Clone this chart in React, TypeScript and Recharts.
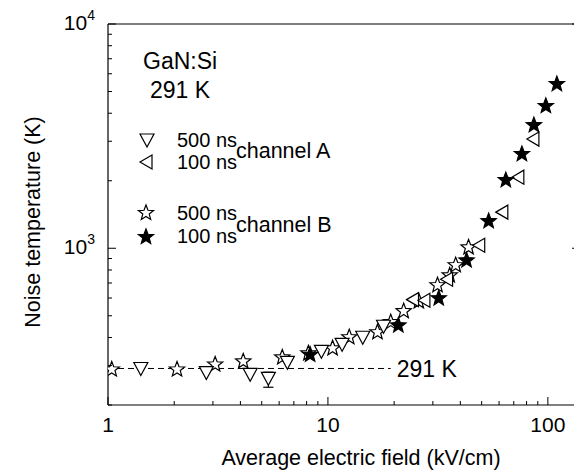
import React from 'react'
import {
	ScatterChart,
	Scatter,
	XAxis,
	YAxis,
	ReferenceLine,
	ReferenceDot,
} from 'recharts'

const FONT = '"Liberation Sans", Arial, Helvetica, sans-serif'

// channel A, 500 ns pulses (down triangles)
const a500Field = [1.41, 2.8, 4.43, 5.36, 6.54, 9.34, 11.6, 14.4, 17.9]
const a500Temp = [291, 279, 274, 263, 310, 347, 373, 401, 449]
// error bar on the 5.36 kV/cm point
const errField = 5.36
const errLow = 240
const errHigh = 280
const capFactor = 1.055

// channel A, 100 ns pulses (left triangles)
const a100Field = [24.5, 27.6, 35.0, 49.0, 62.4, 73.8, 86.4]
const a100Temp = [590, 586, 728, 1031, 1449, 2075, 3067]

// channel B, 500 ns pulses (open stars)
const b500Field = [1.04, 2.06, 3.07, 4.12, 6.2, 8.15, 10.5, 12.5, 16.8, 19.3, 22.1, 25.9, 31.5, 35.8, 38.1, 43.6]
const b500Temp = [288, 288, 303, 313, 326, 340, 358, 401, 422, 468, 524, 580, 684, 757, 840, 1009]

// channel B, 100 ns pulses (filled stars)
const b100Field = [8.3, 20.9, 31.9, 42.7, 53.8, 64.4, 76.2, 86.4, 97.9, 109.9]
const b100Temp = [335, 453, 598, 883, 1321, 2013, 2630, 3540, 4309, 5395]

const xTicks = [1, 2, 3, 4, 5, 6, 7, 8, 9, 10, 20, 30, 40, 50, 60, 70, 80, 90, 100]
const xMajor = [1, 10, 100]
const yTicks = [200, 300, 400, 500, 600, 700, 800, 900, 1000, 2000, 3000, 4000, 5000, 6000, 7000, 8000, 9000, 10000]
const yMajor = [1000, 10000]

const latticeTemp = 291
const dashFrom = 1
const dashTo = 19.3

const toPoints = (xs: number[], ys: number[]) => xs.map((x, i) => ({ x, y: ys[i] }))

const a500 = toPoints(a500Field, a500Temp)
const a100 = toPoints(a100Field, a100Temp)
const b500 = toPoints(b500Field, b500Temp)
const b100 = toPoints(b100Field, b100Temp)

function starPath(cx: number, cy: number, R = 8, r = 3.4) {
	let d = ''
	for (let i = 0; i < 10; i++) {
		const rad = i % 2 === 0 ? R : r
		const a = -Math.PI / 2 + (i * Math.PI) / 5
		d += (i === 0 ? 'M' : 'L') + (cx + rad * Math.cos(a)).toFixed(2) + ',' + (cy + rad * Math.sin(a)).toFixed(2)
	}
	return d + 'Z'
}

const DownTri = (p: any) => (
	<path d={`M${p.cx - 7},${p.cy - 6}L${p.cx + 7},${p.cy - 6}L${p.cx},${p.cy + 7}Z`} fill="white" stroke="black" strokeWidth={1.2} />
)
const LeftTri = (p: any) => (
	<path d={`M${p.cx - 7},${p.cy}L${p.cx + 5},${p.cy - 7}L${p.cx + 5},${p.cy + 7}Z`} fill="white" stroke="black" strokeWidth={1.2} />
)
const OpenStar = (p: any) => <path d={starPath(p.cx, p.cy)} fill="white" stroke="black" strokeWidth={1.2} />
const FullStar = (p: any) => <path d={starPath(p.cx, p.cy)} fill="black" stroke="black" strokeWidth={1.2} />

// ticks point into the plot; only decades get a label
const BottomTick = (p: any) => {
	const major = xMajor.includes(p.payload.value)
	return (
		<g>
			<line x1={p.x} x2={p.x} y1={p.y} y2={p.y - (major ? 8 : 4)} stroke="black" />
			{major && (
				<text x={p.x} y={p.y + 27} textAnchor="middle" fontSize={21} fontFamily={FONT} fill="black">
					{p.payload.value}
				</text>
			)}
		</g>
	)
}
const TopTick = (p: any) => {
	const major = xMajor.includes(p.payload.value)
	return <line x1={p.x} x2={p.x} y1={p.y} y2={p.y + (major ? 8 : 4)} stroke="black" />
}
const LeftTick = (p: any) => {
	const major = yMajor.includes(p.payload.value)
	return (
		<g>
			<line x1={p.x} x2={p.x + (major ? 8 : 4)} y1={p.y} y2={p.y} stroke="black" />
			{major && (
				<text x={p.x - 13} y={p.y + 6} textAnchor="end" fontSize={21} fontFamily={FONT} fill="black">
					10
					<tspan fontSize={14} dy={-10}>
						{Math.round(Math.log10(p.payload.value))}
					</tspan>
				</text>
			)}
		</g>
	)
}
const RightTick = (p: any) => {
	const major = yMajor.includes(p.payload.value)
	return <line x1={p.x} x2={p.x - (major ? 8 : 4)} y1={p.y} y2={p.y} stroke="black" />
}

const txt = { fontFamily: FONT, fontSize: 21.5, fill: 'black' }
const big = { fontFamily: FONT, fontSize: 23, fill: 'black' }
const leg = { fontFamily: FONT, fontSize: 20, fill: 'black' }

const seg = (x1: number, y1: number, x2: number, y2: number) => [
	{ x: x1, y: y1 },
	{ x: x2, y: y2 },
]

export default function App() {
	return (
		<div style={{ position: 'relative', width: 574, height: 468 }}>
			<ScatterChart width={574} height={468} margin={{ top: 15, right: 0, bottom: 11, left: 40 }}>
				<XAxis
					xAxisId="b"
					dataKey="x"
					type="number"
					scale="log"
					domain={[1, 140]}
					allowDataOverflow
					ticks={xTicks}
					interval={0}
					tickSize={0}
					tickMargin={0}
					height={60}
					tick={BottomTick}
					axisLine={{ stroke: 'black', strokeWidth: 1.2 }}
					label={() => (
						<text x={353} y={457} textAnchor="middle" {...txt}>
							Average electric field (kV/cm)
						</text>
					)}
				/>
				<XAxis
					xAxisId="t"
					orientation="top"
					type="number"
					scale="log"
					domain={[1, 140]}
					allowDataOverflow
					ticks={xTicks}
					interval={0}
					tickSize={0}
					tickMargin={0}
					height={1}
					tick={TopTick}
					axisLine={{ stroke: 'black', strokeWidth: 1.2 }}
				/>
				<YAxis
					yAxisId="l"
					dataKey="y"
					type="number"
					scale="log"
					domain={[200, 10000]}
					allowDataOverflow
					ticks={yTicks}
					interval={0}
					tickSize={0}
					tickMargin={0}
					width={60}
					tick={LeftTick}
					axisLine={{ stroke: 'black', strokeWidth: 1.2 }}
					label={() => (
						<text x={25} y={214} textAnchor="middle" transform="rotate(-90 25 214)" dy={7} {...txt}>
							Noise temperature (K)
						</text>
					)}
				/>
				<YAxis
					yAxisId="r"
					orientation="right"
					type="number"
					scale="log"
					domain={[200, 10000]}
					allowDataOverflow
					ticks={yTicks}
					interval={0}
					tickSize={0}
					tickMargin={0}
					width={2}
					tick={RightTick}
					axisLine={{ stroke: 'black', strokeWidth: 1.2 }}
				/>
				<ReferenceLine
					xAxisId="b"
					yAxisId="l"
					segment={seg(dashFrom, latticeTemp, dashTo, latticeTemp)}
					stroke="black"
					strokeDasharray="6 4"
					ifOverflow="visible"
				/>
				<ReferenceDot
					xAxisId="b"
					yAxisId="l"
					x={dashTo}
					y={latticeTemp}
					r={1}
					fill="none"
					stroke="none"
					label={{ value: `${latticeTemp} K`, position: 'right', offset: 5, ...big }}
				/>
				{/* error bar: stem + two caps */}
				<ReferenceLine xAxisId="b" yAxisId="l" segment={seg(errField, errLow, errField, errHigh)} stroke="black" strokeWidth={1.2} />
				<ReferenceLine xAxisId="b" yAxisId="l" segment={seg(errField / capFactor, errLow, errField * capFactor, errLow)} stroke="black" strokeWidth={1.2} />
				<ReferenceLine xAxisId="b" yAxisId="l" segment={seg(errField / capFactor, errHigh, errField * capFactor, errHigh)} stroke="black" strokeWidth={1.2} />
				<Scatter xAxisId="b" yAxisId="l" data={b500} shape={OpenStar} isAnimationActive={false} />
				<Scatter xAxisId="b" yAxisId="l" data={a500} shape={DownTri} isAnimationActive={false} />
				<Scatter xAxisId="b" yAxisId="l" data={a100} shape={LeftTri} isAnimationActive={false} />
				<Scatter xAxisId="b" yAxisId="l" data={b100} shape={FullStar} isAnimationActive={false} />
			</ScatterChart>
			<svg width={574} height={468} style={{ position: 'absolute', left: 0, top: 0, pointerEvents: 'none' }}>
				<text x={135} y={61} {...big}>GaN:Si</text>
				<text x={142} y={90} {...big}>291 K</text>
				<DownTri cx={139} cy={132} />
				<text x={169} y={139} {...leg}>500 ns</text>
				<LeftTri cx={139} cy={154} />
				<text x={169} y={161} {...leg}>100 ns</text>
				<text x={228} y={150} {...txt}>channel A</text>
				<OpenStar cx={138} cy={205} />
				<text x={169} y={212} {...leg}>500 ns</text>
				<FullStar cx={138} cy={229} />
				<text x={169} y={235} {...leg}>100 ns</text>
				<text x={228} y={224} {...txt}>channel B</text>
			</svg>
		</div>
	)
}
